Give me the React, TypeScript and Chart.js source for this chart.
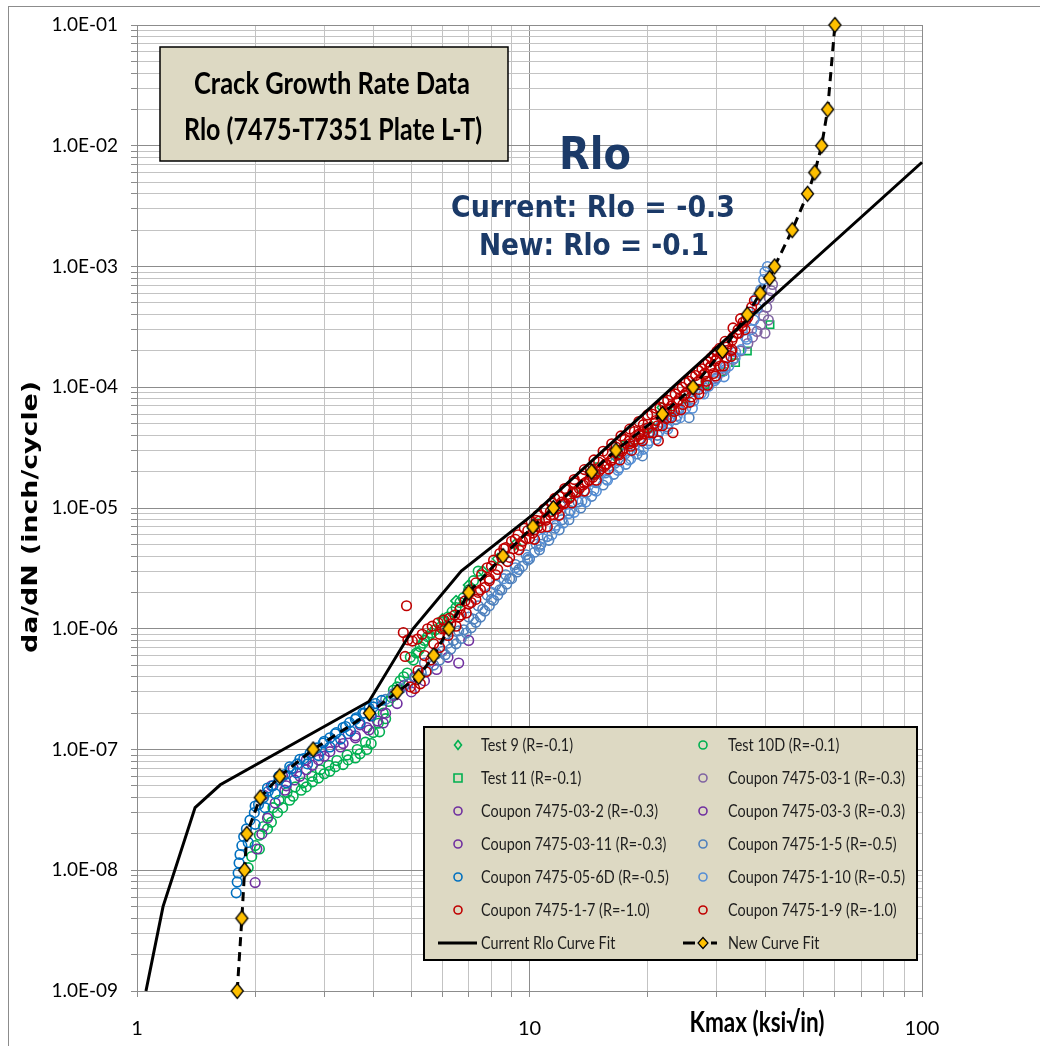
import React, { useEffect, useRef } from 'react';
import { Chart, registerables } from 'chart.js';

Chart.register(...registerables);

// ---------- axis ticks ----------
const xMajorValues = [1, 10, 100];
const xTickLabels = ['1', '10', '100'];
const yMajorValues = [1e-9, 1e-8, 1e-7, 1e-6, 1e-5, 1e-4, 1e-3, 1e-2, 1e-1];
const yTickLabels = ['1.0E-09', '1.0E-08', '1.0E-07', '1.0E-06', '1.0E-05', '1.0E-04', '1.0E-03', '1.0E-02', '1.0E-01'];

// ---------- series (Kmax, da/dN) ----------
const seriesLabels = [
  'Test 9 (R=-0.1)',
  'Test 10D (R=-0.1)',
  'Test 11 (R=-0.1)',
  'Coupon 7475-03-1 (R=-0.3)',
  'Coupon 7475-03-2 (R=-0.3)',
  'Coupon 7475-03-3 (R=-0.3)',
  'Coupon 7475-03-11 (R=-0.3)',
  'Coupon 7475-1-5 (R=-0.5)',
  'Coupon 7475-05-6D (R=-0.5)',
  'Coupon 7475-1-10 (R=-0.5)',
  'Coupon 7475-1-7 (R=-1.0)',
  'Coupon 7475-1-9 (R=-1.0)',
  'Current Rlo Curve Fit',
  'New Curve Fit',
];

const test9: [number, number][] = [
  [5.2, 6.4e-7], [5.6, 8.8e-7], [6.0, 1.2e-6], [6.5, 1.7e-6], [7.0, 2.3e-6], [7.6, 3.0e-6],
  [8.3, 3.8e-6], [9.2, 5.0e-6], [10.2, 6.8e-6], [11.5, 9.5e-6], [13.0, 1.35e-5], [14.6, 1.9e-5],
  [16.5, 2.7e-5], [18.5, 3.6e-5], [20.5, 4.7e-5], [21.8, 6.8e-5],
];

const test10D: [number, number][] = [
  [1.92, 1.05e-8], [1.96, 1.3e-8], [2.0, 1.6e-8], [2.05, 1.95e-8], [2.1, 2.3e-8], [2.16, 2.8e-8],
  [2.22, 3.3e-8], [2.3, 3.8e-8], [2.41, 4.4e-8], [2.53, 4.9e-8], [2.65, 5.3e-8], [2.79, 6.0e-8],
  [2.93, 6.8e-8], [3.08, 7.4e-8], [3.23, 8.1e-8], [3.43, 9.0e-8], [3.64, 1.0e-7], [3.82, 1.15e-7],
  [4.0, 1.38e-7], [4.12, 1.65e-7], [4.24, 2.0e-7], [4.37, 2.5e-7], [4.5, 3.1e-7], [4.68, 3.7e-7],
  [4.88, 4.3e-7], [5.06, 5.5e-7], [5.27, 7.1e-7], [5.5, 8.6e-7], [5.75, 9.8e-7], [5.93, 1.03e-6],
  [6.2, 1.25e-6], [6.5, 1.5e-6], [6.78, 1.8e-6], [7.0, 2.1e-6], [7.2, 2.5e-6], [7.4, 3.0e-6],
  [2.05, 1.5e-8], [2.15, 2.2e-8], [2.28, 3.0e-8], [2.45, 3.8e-8], [2.62, 4.6e-8], [2.8, 5.4e-8],
  [3.0, 6.3e-8], [3.2, 7.2e-8], [3.45, 8.2e-8], [3.7, 9.2e-8], [3.95, 1.12e-7], [4.15, 1.4e-7],
  [4.3, 1.8e-7], [4.97, 5.8e-7], [5.36, 7.6e-7],
  [2.2, 2.5e-8], [2.35, 3.3e-8], [2.5, 4.1e-8], [2.7, 4.9e-8], [2.9, 5.8e-8], [3.1, 6.6e-8],
  [3.35, 7.5e-8], [3.6, 8.5e-8], [3.85, 1.0e-7], [4.45, 2.7e-7], [4.6, 3.3e-7], [4.78, 4.0e-7],
  [5.15, 6.3e-7], [5.4, 8.0e-7], [5.62, 9.2e-7], [6.05, 1.15e-6], [6.35, 1.38e-6], [6.65, 1.65e-6],
];

const test11: [number, number][] = [
  [10.5, 7.5e-6], [12.5, 1.2e-5], [15.0, 2.2e-5], [17.5, 3.3e-5], [20.0, 4.6e-5], [22.5, 6.2e-5],
  [25.0, 8.0e-5], [28.0, 1.05e-4], [31.0, 1.35e-4], [33.5, 1.6e-4], [35.9, 2.0e-4], [41.0, 3.3e-4],
];

const coupon03_1: [number, number][] = [
  [12.0, 1.05e-5], [14.3, 1.9e-5], [20, 4.5e-5], [22, 5.5e-5], [24, 6.6e-5], [26, 8.0e-5],
  [28, 9.8e-5], [30, 1.2e-4], [31.5, 1.4e-4], [33, 1.7e-4], [34.5, 2.0e-4], [36, 2.3e-4],
  [37, 2.6e-4], [38, 2.9e-4], [38.8, 3.3e-4], [39.5, 3.9e-4], [40.2, 4.6e-4], [40.8, 5.5e-4],
  [41.3, 6.3e-4], [41.6, 7.1e-4], [39.8, 2.8e-4], [40.6, 3.6e-4],
];

const coupon03_2: [number, number][] = [
  [2.0, 7.9e-9], [2.02, 1.5e-8], [2.08, 2.0e-8], [2.15, 2.7e-8], [2.25, 3.6e-8], [2.38, 4.6e-8],
  [2.52, 5.6e-8], [2.7, 6.8e-8], [2.9, 8.2e-8], [3.1, 9.6e-8], [3.35, 1.12e-7], [3.6, 1.3e-7],
  [3.85, 1.52e-7], [4.1, 1.72e-7], [4.24, 1.66e-7],
];

const coupon03_3: [number, number][] = [
  [2.1, 4.2e-8], [2.2, 5.0e-8], [2.35, 6.0e-8], [2.5, 7.0e-8], [2.7, 8.2e-8], [2.95, 9.8e-8],
  [3.2, 1.15e-7], [3.45, 1.35e-7], [3.7, 1.6e-7], [3.95, 1.9e-7], [4.2, 2.3e-7], [4.5, 2.8e-7],
  [4.8, 3.4e-7], [5.1, 4.0e-7], [6.6, 5.2e-7],
];

const coupon03_11: [number, number][] = [
  [2.4, 5.0e-8], [2.6, 6.0e-8], [2.8, 7.4e-8], [3.0, 8.8e-8], [3.3, 1.05e-7], [3.6, 1.25e-7],
  [3.9, 1.45e-7], [4.3, 2.0e-7], [4.6, 2.4e-7], [5.0, 3.0e-7], [5.4, 3.7e-7], [5.8, 4.6e-7],
  [6.2, 5.8e-7], [7.0, 8.0e-7],
];

const coupon1_5: [number, number][] = [
  [4.3, 2.6e-7], [4.5, 2.9e-7], [4.7, 3.2e-7], [4.9, 3.5e-7], [5.1, 3.9e-7], [5.3, 4.3e-7],
  [5.5, 4.5e-7], [5.7, 5.0e-7], [5.9, 5.5e-7], [6.1, 6.1e-7], [6.3, 6.8e-7], [6.5, 7.5e-7],
  [6.7, 8.3e-7], [6.9, 9.2e-7], [7.1, 1.02e-6], [7.3, 1.13e-6], [7.5, 1.25e-6], [7.7, 1.4e-6],
  [7.9, 1.55e-6], [8.1, 1.72e-6], [8.3, 1.9e-6], [8.5, 2.1e-6], [8.75, 2.35e-6], [9.0, 2.6e-6],
  [9.3, 2.95e-6], [9.6, 3.3e-6], [9.9, 3.7e-6], [10.3, 4.3e-6], [10.7, 5.0e-6], [11.1, 5.8e-6],
  [11.6, 6.8e-6], [12.1, 8.0e-6], [12.7, 9.5e-6], [13.3, 1.12e-5], [14.0, 1.35e-5], [14.8, 1.62e-5],
  [15.6, 1.95e-5], [16.5, 2.35e-5], [17.5, 2.8e-5], [18.5, 3.3e-5], [19.4, 2.7e-5], [20.5, 4.1e-5],
  [21.6, 4.8e-5], [22.8, 5.6e-5], [24.0, 6.5e-5], [25.5, 5.6e-5],
  [5.4, 5.2e-7], [5.8, 6.2e-7], [6.2, 7.6e-7], [6.6, 9.6e-7], [7.0, 1.25e-6], [7.4, 1.55e-6],
  [7.8, 1.9e-6], [8.2, 2.3e-6], [8.7, 2.8e-6], [9.2, 3.4e-6], [9.8, 4.1e-6], [10.4, 5.0e-6],
  [6.0, 6.5e-7], [6.4, 8.0e-7], [6.8, 9.8e-7], [7.2, 1.2e-6], [7.6, 1.45e-6], [8.0, 1.75e-6],
  [8.4, 2.1e-6], [8.9, 2.6e-6], [9.4, 3.1e-6], [10.0, 3.8e-6], [10.6, 4.5e-6], [11.2, 5.4e-6],
  [11.9, 6.6e-6], [12.6, 8.0e-6], [13.5, 1.0e-5], [14.4, 1.25e-5], [15.4, 1.55e-5], [16.4, 1.9e-5],
  [17.6, 2.3e-5], [18.8, 2.8e-5], [20.0, 3.4e-5], [21.2, 4.0e-5], [22.4, 4.7e-5], [23.6, 5.4e-5],
];

const coupon05_6D: [number, number][] = [
  [1.79, 6.5e-9], [1.8, 8.0e-9], [1.81, 9.5e-9], [1.82, 1.15e-8], [1.83, 1.35e-8], [1.85, 1.6e-8],
  [1.87, 1.9e-8], [1.9, 2.2e-8], [1.94, 2.6e-8], [1.99, 3.0e-8], [2.04, 3.5e-8], [2.1, 4.0e-8],
  [2.16, 4.5e-8], [2.22, 5.0e-8], [2.3, 5.6e-8], [2.38, 6.2e-8], [2.47, 6.9e-8], [2.56, 7.6e-8],
  [2.66, 8.4e-8], [2.76, 9.3e-8], [2.87, 1.03e-7], [2.98, 1.13e-7], [3.1, 1.25e-7], [3.22, 1.38e-7],
  [3.35, 1.52e-7], [3.48, 1.67e-7], [3.62, 1.83e-7], [3.76, 2.0e-7], [3.9, 2.2e-7], [4.05, 2.4e-7],
  [4.2, 2.55e-7],
  [1.92, 1.7e-8], [2.0, 2.4e-8], [2.12, 3.3e-8], [2.25, 4.3e-8], [2.4, 5.3e-8], [2.55, 6.4e-8],
  [2.72, 7.6e-8], [2.9, 8.9e-8], [3.1, 1.05e-7], [3.3, 1.22e-7], [3.5, 1.42e-7], [3.7, 1.65e-7],
  [3.95, 1.9e-7],
  [2.0, 3.4e-8], [2.15, 4.8e-8], [2.3, 6.0e-8], [2.45, 7.2e-8], [2.6, 8.3e-8], [2.8, 9.8e-8],
  [3.0, 1.17e-7], [3.2, 1.35e-7], [3.4, 1.55e-7], [3.6, 1.78e-7], [3.8, 2.0e-7], [4.0, 2.25e-7],
];

const coupon1_10: [number, number][] = [
  [8.0, 2.0e-6], [8.6, 2.6e-6], [9.2, 3.2e-6], [9.9, 3.9e-6], [10.6, 4.8e-6], [11.4, 6.0e-6],
  [12.2, 7.5e-6], [13.0, 9.2e-6], [13.9, 1.12e-5], [14.8, 1.38e-5], [15.8, 1.7e-5], [16.8, 2.05e-5],
  [17.9, 2.5e-5], [19.0, 3.0e-5], [20.2, 3.6e-5], [21.4, 4.3e-5], [22.6, 5.0e-5], [23.8, 5.8e-5],
  [25.0, 6.7e-5], [26.2, 7.7e-5], [27.4, 8.9e-5], [28.6, 1.02e-4], [29.8, 1.17e-4], [31.0, 1.34e-4],
  [31.3, 1.22e-4], [32.2, 1.5e-4], [33.4, 1.75e-4], [34.6, 2.05e-4], [35.8, 2.5e-4], [36.8, 3.0e-4],
  [37.3, 3.6e-4], [38.0, 4.5e-4], [38.8, 6.4e-4], [39.5, 7.8e-4], [40.4, 1.0e-3], [39.8, 9.0e-4],
  [37.8, 5.4e-4],
  [10.8, 5.6e-6], [11.7, 7.2e-6], [12.6, 9.0e-6], [13.6, 1.14e-5], [14.6, 1.41e-5], [15.7, 1.73e-5],
  [16.9, 2.14e-5], [18.1, 2.55e-5], [19.5, 3.06e-5], [21.0, 3.7e-5], [22.5, 4.5e-5], [24.2, 5.6e-5],
  [26.0, 6.7e-5], [27.8, 8.8e-5], [29.6, 1.13e-4], [31.5, 1.47e-4], [33.5, 1.96e-4], [35.5, 2.6e-4],
];

const coupon1_7: [number, number][] = [
  [4.77, 9.3e-7], [4.86, 1.55e-6], [4.82, 5.9e-7], [4.9, 8.1e-7], [5.03, 7.9e-7], [5.18, 8.2e-7],
  [5.33, 9.0e-7], [5.5, 1.0e-6], [4.97, 3.3e-7], [5.1, 3.2e-7], [5.27, 3.5e-7], [5.45, 4.4e-7],
  [5.65, 1.05e-6], [5.85, 1.12e-6], [6.05, 1.18e-6], [6.25, 1.22e-6], [6.45, 1.3e-6], [6.65, 1.45e-6],
  [6.85, 1.7e-6], [7.05, 2.0e-6], [7.3, 2.4e-6], [7.55, 2.8e-6], [7.8, 3.2e-6], [8.1, 3.7e-6],
  [8.4, 4.2e-6], [8.7, 4.7e-6], [9.0, 5.3e-6], [9.35, 6.0e-6], [9.7, 6.8e-6], [10.1, 7.7e-6],
  [10.5, 8.7e-6], [10.9, 9.8e-6], [11.4, 1.1e-5], [11.9, 1.25e-5], [12.4, 1.42e-5], [13.0, 1.62e-5],
  [13.6, 1.85e-5], [14.3, 2.1e-5], [15.0, 2.4e-5], [15.8, 2.8e-5], [16.6, 3.2e-5], [17.5, 3.7e-5],
  [18.5, 4.3e-5], [19.5, 4.9e-5],
  [5.6, 5.5e-7], [5.9, 7.0e-7], [6.2, 8.8e-7], [6.5, 1.05e-6], [6.9, 1.35e-6], [7.3, 1.75e-6],
  [7.7, 2.2e-6], [8.2, 2.8e-6], [8.8, 3.6e-6], [9.4, 4.5e-6], [10.0, 5.6e-6], [10.7, 6.9e-6],
  [11.5, 8.8e-6], [12.3, 1.1e-5], [13.1, 1.35e-5], [14.0, 1.65e-5], [15.0, 2.0e-5], [16.1, 2.45e-5],
  [17.2, 2.95e-5], [18.4, 3.5e-5], [19.6, 4.1e-5],
  [8.0, 3.3e-6], [8.5, 3.9e-6], [9.1, 4.6e-6], [9.6, 5.3e-6], [10.3, 6.6e-6], [11.0, 8.2e-6],
  [11.7, 9.8e-6], [12.6, 1.2e-5], [13.4, 1.45e-5], [14.5, 1.8e-5], [15.5, 2.2e-5], [16.3, 2.6e-5],
  [17.0, 3.0e-5], [18.0, 3.6e-5], [19.0, 4.1e-5],
  [8.6, 4.6e-6], [9.2, 5.5e-6], [9.9, 6.5e-6], [10.6, 7.8e-6], [11.3, 9.3e-6], [12.1, 1.12e-5],
  [12.9, 1.35e-5], [13.8, 1.6e-5], [14.7, 1.95e-5], [15.6, 2.3e-5], [16.9, 2.75e-5], [18.1, 3.25e-5],
  [19.2, 3.75e-5],
  [6.0, 1.0e-6], [6.3, 1.1e-6], [6.7, 1.3e-6], [7.1, 1.65e-6], [7.5, 2.1e-6], [7.9, 2.5e-6],
  [5.2, 4.5e-7], [5.4, 6.0e-7], [5.7, 7.5e-7], [5.9, 9.0e-7],
  [10.4, 7.9e-6], [11.0, 9.8e-6], [11.6, 1.2e-5], [12.3, 1.45e-5], [13.0, 1.72e-5], [13.8, 2.08e-5],
  [14.6, 2.5e-5], [15.4, 2.95e-5], [16.2, 3.4e-5], [17.1, 3.95e-5], [18.0, 4.5e-5], [19.0, 5.2e-5],
];

const coupon1_9: [number, number][] = [
  [6.1, 1.0e-6], [6.6, 1.25e-6], [7.0, 1.6e-6], [7.4, 2.0e-6], [7.9, 2.6e-6], [8.3, 3.1e-6],
  [8.9, 3.9e-6], [9.5, 4.9e-6], [10.2, 6.2e-6], [11.0, 7.9e-6], [11.8, 9.9e-6], [12.7, 1.24e-5],
  [13.7, 1.55e-5], [14.7, 1.9e-5], [15.7, 2.3e-5], [16.8, 2.8e-5], [18.0, 3.4e-5], [19.0, 4.0e-5],
  [20.0, 4.6e-5], [21.0, 5.3e-5], [22.0, 6.1e-5], [23.0, 7.0e-5], [24.0, 7.9e-5], [25.0, 8.9e-5],
  [26.0, 1.0e-4], [27.0, 1.13e-4], [28.0, 1.3e-4], [29.0, 1.5e-4], [30.0, 1.72e-4], [31.0, 1.98e-4],
  [32.0, 2.28e-4], [33.0, 2.6e-4], [34.0, 3.0e-4], [35.0, 3.45e-4], [35.6, 3.6e-4], [36.5, 4.2e-4],
  [20.5, 6.0e-5], [21.5, 6.8e-5], [22.5, 7.8e-5], [23.5, 8.8e-5], [24.5, 1.0e-4], [25.5, 1.12e-4],
  [26.5, 1.25e-4], [27.5, 1.42e-4], [28.5, 1.62e-4], [29.5, 1.85e-4], [30.5, 2.1e-4], [31.5, 2.4e-4],
  [32.6, 2.0e-4], [34.1, 2.8e-4], [33.0, 3.1e-4], [34.5, 3.7e-4],
  [20.2, 4.2e-5], [21.2, 4.8e-5], [22.3, 5.5e-5], [23.4, 6.3e-5], [24.6, 7.2e-5], [25.8, 8.3e-5],
  [27.0, 9.6e-5], [28.2, 1.12e-4], [29.4, 1.3e-4], [30.6, 1.5e-4], [31.8, 1.75e-4], [32.8, 2.05e-4],
  [21.3, 3.6e-5], [23.2, 4.2e-5],
  [20.8, 5.0e-5], [21.8, 5.8e-5], [22.8, 6.6e-5], [23.8, 7.6e-5], [24.8, 8.6e-5], [25.8, 9.8e-5],
  [26.8, 1.1e-4], [27.8, 1.27e-4], [28.8, 1.45e-4], [29.8, 1.66e-4], [30.8, 1.9e-4], [31.8, 2.15e-4],
  [32.8, 2.45e-4], [33.8, 2.8e-4], [34.8, 3.2e-4], [35.4, 3.0e-4], [36.0, 3.8e-4], [36.8, 4.6e-4],
  [37.4, 5.2e-4],
  [9.8, 5.6e-6], [10.5, 7.0e-6], [11.3, 8.7e-6], [12.2, 1.08e-5], [13.2, 1.35e-5], [14.2, 1.7e-5],
  [15.2, 2.1e-5], [16.2, 2.5e-5], [17.3, 3.1e-5], [18.5, 3.7e-5], [19.5, 4.3e-5],
  [20.0, 5.9e-5], [21.0, 6.7e-5], [22.0, 7.6e-5], [23.0, 8.6e-5], [24.0, 9.7e-5], [25.0, 1.09e-4],
  [26.0, 1.22e-4], [27.0, 1.37e-4], [28.0, 1.55e-4], [29.0, 1.75e-4], [30.0, 1.98e-4],
  [10.3, 5.5e-6], [11.1, 7.0e-6], [11.9, 8.7e-6], [12.8, 1.1e-5], [13.8, 1.38e-5], [14.8, 1.7e-5],
  [15.9, 2.1e-5], [17.0, 2.5e-5], [18.2, 3.0e-5], [19.4, 3.6e-5], [20.6, 4.2e-5], [21.8, 4.8e-5],
  [23.0, 5.6e-5], [24.3, 6.5e-5], [25.6, 7.5e-5], [27.0, 8.8e-5], [28.4, 1.04e-4], [29.8, 1.24e-4],
  [31.2, 1.5e-4], [32.6, 1.8e-4],
];

const currentFitK = [1.054, 1.165, 1.406, 1.63, 3.9, 5.05, 6.7, 10.2, 24.3, 100];
const currentFitRate = [1e-9, 5e-9, 3.3e-8, 5.1e-8, 2.5e-7, 1.0e-6, 3.0e-6, 8.8e-6, 1.15e-4, 7.3e-3];

const newFitK = [1.8, 1.85, 1.88, 1.905, 2.06, 2.31, 2.81, 3.91, 4.6, 5.22, 5.7, 6.23, 7.0, 8.56, 10.2, 11.5,
  14.4, 16.6, 21.8, 26.1, 31, 35.9, 38.7, 40.9, 42.1, 46.7, 51.1, 53.3, 55.5, 57.5, 60];
const newFitRate = [1e-9, 4e-9, 1e-8, 2e-8, 4e-8, 6e-8, 1e-7, 2e-7, 3e-7, 4e-7, 6e-7, 1e-6, 2e-6, 4e-6, 7e-6, 1e-5,
  2e-5, 3e-5, 6e-5, 1e-4, 2e-4, 4e-4, 6e-4, 8e-4, 1e-3, 2e-3, 4e-3, 6e-3, 1e-2, 2e-2, 1e-1];

// ---------- styles ----------
const GREEN = '#00B050';
const PURPLE = '#7030A0';
const LIGHT_PURPLE = '#8064A2';
const BLUE = '#0070C0';
const LIGHT_BLUE = '#4F81BD';
const LIGHT_BLUE2 = '#558ED5';
const RED = '#C00000';
const NAVY = '#1B3A68';
const BOX_FILL = '#DDD9C3';

type MarkerKind = 'circle' | 'diamond' | 'square';
const scatterSeries: { data: [number, number][]; color: string; marker: MarkerKind }[] = [
  { data: test9, color: GREEN, marker: 'diamond' },
  { data: test10D, color: GREEN, marker: 'circle' },
  { data: test11, color: GREEN, marker: 'square' },
  { data: coupon03_1, color: LIGHT_PURPLE, marker: 'circle' },
  { data: coupon03_2, color: PURPLE, marker: 'circle' },
  { data: coupon03_3, color: PURPLE, marker: 'circle' },
  { data: coupon03_11, color: PURPLE, marker: 'circle' },
  { data: coupon1_5, color: LIGHT_BLUE, marker: 'circle' },
  { data: coupon05_6D, color: BLUE, marker: 'circle' },
  { data: coupon1_10, color: LIGHT_BLUE2, marker: 'circle' },
  { data: coupon1_7, color: RED, marker: 'circle' },
  { data: coupon1_9, color: RED, marker: 'circle' },
];

function makeDiamond(w: number, h: number): HTMLCanvasElement {
  const c = document.createElement('canvas');
  c.width = w + 3;
  c.height = h + 3;
  const g = c.getContext('2d')!;
  const cx = c.width / 2;
  const cy = c.height / 2;
  g.beginPath();
  g.moveTo(cx, cy - h / 2);
  g.lineTo(cx + w / 2, cy);
  g.lineTo(cx, cy + h / 2);
  g.lineTo(cx - w / 2, cy);
  g.closePath();
  g.fillStyle = '#FFC000';
  g.fill();
  g.lineWidth = 1.3;
  g.strokeStyle = '#000';
  g.stroke();
  return c;
}

const isDecade = (v: number) => {
  const l = Math.log10(v);
  return Math.abs(l - Math.round(l)) < 1e-6;
};

function logTicks(lo: number, hi: number): number[] {
  const out: number[] = [];
  for (let e = lo; e < hi; e++) {
    for (let m = 1; m <= 9; m++) out.push(parseFloat((m * Math.pow(10, e)).toPrecision(6)));
  }
  out.push(Math.pow(10, hi));
  return out;
}

function capText(ctx: CanvasRenderingContext2D, text: string, x: number, capCenterY: number, fontPx: number,
  fontSpec: string, capRatio: number, color: string, opts: { targetW?: number; sx?: number; align?: CanvasTextAlign }) {
  ctx.save();
  ctx.font = fontSpec;
  const w = ctx.measureText(text).width;
  const s = opts.targetW ? opts.targetW / w : (opts.sx ?? 1);
  ctx.translate(x, capCenterY + (capRatio * fontPx) / 2);
  ctx.scale(s, 1);
  ctx.textAlign = opts.align ?? 'center';
  ctx.textBaseline = 'alphabetic';
  ctx.fillStyle = color;
  ctx.fillText(text, 0, 0);
  ctx.restore();
}

function drawMarker(ctx: CanvasRenderingContext2D, kind: MarkerKind, x: number, y: number, color: string) {
  ctx.save();
  ctx.strokeStyle = color;
  ctx.lineWidth = 1.6;
  ctx.beginPath();
  if (kind === 'circle') {
    ctx.arc(x, y, 4, 0, Math.PI * 2);
  } else if (kind === 'diamond') {
    ctx.moveTo(x, y - 4.5);
    ctx.lineTo(x + 3.5, y);
    ctx.lineTo(x, y + 4.5);
    ctx.lineTo(x - 3.5, y);
    ctx.closePath();
  } else {
    ctx.rect(x - 4, y - 4, 8, 8);
  }
  ctx.stroke();
  ctx.restore();
}

const decorPlugin = {
  id: 'decor',
  beforeDraw(chart: any) {
    const ctx: CanvasRenderingContext2D = chart.ctx;
    ctx.save();
    ctx.fillStyle = '#ffffff';
    ctx.fillRect(0, 0, chart.width, chart.height);
    ctx.strokeStyle = '#8c8c8c';
    ctx.lineWidth = 1;
    ctx.strokeRect(8.5, 6.5, chart.width + 20, chart.height + 20);
    ctx.restore();
  },
  afterDraw(chart: any) {
    const ctx: CanvasRenderingContext2D = chart.ctx;

    // Title box
    ctx.save();
    ctx.fillStyle = BOX_FILL;
    ctx.fillRect(160, 47, 348, 114);
    ctx.strokeStyle = '#000';
    ctx.lineWidth = 1.5;
    ctx.strokeRect(160, 47, 348, 114);
    ctx.restore();
    capText(ctx, 'Crack Growth Rate Data', 332, 82.5, 31, 'bold 31px Lato', 0.717, '#000', { targetW: 276 });
    capText(ctx, 'Rlo (7475-T7351 Plate L-T)', 333, 129, 31, 'bold 31px Lato', 0.717, '#000', { targetW: 298 });

    // Rlo annotation
    capText(ctx, 'Rlo', 595, 152.5, 44, 'bold 44px "DejaVu Sans"', 0.729, NAVY, { targetW: 72 });
    capText(ctx, 'Current: Rlo = -0.3', 593, 206, 30, 'bold 30px "DejaVu Sans"', 0.729, NAVY, { targetW: 284 });
    capText(ctx, 'New: Rlo = -0.1', 594, 244, 30, 'bold 30px "DejaVu Sans"', 0.729, NAVY, { targetW: 230 });

    // x-axis title
    capText(ctx, 'Kmax (ksi√in)', 757, 1022, 28, 'bold 28px Lato', 0.717, '#000', { targetW: 135 });

    // y-axis title
    ctx.save();
    ctx.translate(31, 517);
    ctx.rotate(-Math.PI / 2);
    ctx.font = 'bold 22px "DejaVu Sans"';
    const yt = 'da/dN (inch/cycle)';
    const yw = ctx.measureText(yt).width;
    ctx.scale(272 / yw, 1);
    ctx.textAlign = 'center';
    ctx.textBaseline = 'middle';
    ctx.fillStyle = '#000';
    ctx.fillText(yt, 0, 0);
    ctx.restore();

    // Legend box
    ctx.save();
    ctx.fillStyle = BOX_FILL;
    ctx.fillRect(424, 727, 493, 233);
    ctx.strokeStyle = '#000';
    ctx.lineWidth = 2;
    ctx.strokeRect(424, 727, 493, 233);
    ctx.restore();

    const rowY = (r: number) => 745 + r * 33;
    const markerX = [458, 703];
    const textX = [481, 728];
    chart.data.datasets.forEach((ds: any, i: number) => {
      const r = Math.floor(i / 2);
      const c = i % 2;
      const y = rowY(r);
      if (i < scatterSeries.length) {
        drawMarker(ctx, scatterSeries[i].marker, markerX[c], y, scatterSeries[i].color);
      } else if (i === scatterSeries.length) {
        ctx.save();
        ctx.strokeStyle = '#000';
        ctx.lineWidth = 3;
        ctx.beginPath();
        ctx.moveTo(438, y);
        ctx.lineTo(477, y);
        ctx.stroke();
        ctx.restore();
      } else {
        ctx.save();
        ctx.strokeStyle = '#000';
        ctx.lineWidth = 3;
        ctx.beginPath();
        ctx.moveTo(683, y);
        ctx.lineTo(695, y);
        ctx.moveTo(711, y);
        ctx.lineTo(717, y);
        ctx.stroke();
        ctx.beginPath();
        ctx.moveTo(703, y - 5.5);
        ctx.lineTo(708, y);
        ctx.lineTo(703, y + 5.5);
        ctx.lineTo(698, y);
        ctx.closePath();
        ctx.fillStyle = '#FFC000';
        ctx.fill();
        ctx.lineWidth = 1.2;
        ctx.stroke();
        ctx.restore();
      }
      capText(ctx, ds.label, textX[c], y, 18, '18px Lato', 0.717, '#1e1e1e', { sx: 0.8, align: 'left' });
    });
  },
};

export default function App() {
  const ref = useRef<HTMLCanvasElement | null>(null);

  useEffect(() => {
    if (!ref.current) return;
    const diamond = makeDiamond(12, 15);
    const n = seriesLabels.length;

    const datasets: any[] = scatterSeries.map((s, i) => ({
      label: seriesLabels[i],
      data: s.data.map(([x, y]) => ({ x, y })),
      showLine: false,
      pointStyle: s.marker === 'circle' ? 'circle' : s.marker === 'diamond' ? 'rectRot' : 'rect',
      pointRadius: s.marker === 'circle' ? 4.8 : 5.2,
      borderColor: s.color,
      backgroundColor: 'rgba(0,0,0,0)',
      pointBorderWidth: 1.6,
      order: n - 1 - i,
    }));

    datasets.push({
      label: seriesLabels[12],
      data: currentFitK.map((x, i) => ({ x, y: currentFitRate[i] })),
      showLine: true,
      borderColor: '#000',
      borderWidth: 3,
      pointRadius: 0,
      fill: false,
      clip: false,
      order: 1,
    });
    datasets.push({
      label: seriesLabels[13],
      data: newFitK.map((x, i) => ({ x, y: newFitRate[i] })),
      showLine: true,
      borderColor: '#000',
      borderWidth: 3,
      borderDash: [9, 6],
      pointStyle: diamond,
      pointRadius: 7,
      fill: false,
      clip: false,
      order: 0,
    });

    const xTicks = logTicks(0, 2);
    const yTicks = logTicks(-9, -1);

    const gridColor = (ctx: any) => (ctx.tick && isDecade(ctx.tick.value) ? '#8c8c8c' : '#c3c3c3');

    const chart = new Chart(ref.current, {
      type: 'scatter',
      data: { datasets },
      plugins: [decorPlugin],
      options: {
        responsive: false,
        animation: false,
        events: [],
        layout: { padding: { left: 8, right: 118, top: 25, bottom: 0 } },
        plugins: { legend: { display: false }, tooltip: { enabled: false }, title: { display: false } },
        scales: {
          x: {
            type: 'logarithmic',
            min: 1,
            max: 100,
            afterBuildTicks: (s: any) => { s.ticks = xTicks.map((v) => ({ value: v })); },
            afterFit: (s: any) => { s.height = 55; },
            ticks: {
              autoSkip: false,
              maxRotation: 0,
              minRotation: 0,
              padding: 20,
              color: '#000',
              font: { family: 'Lato', size: 20 },
              callback: (v: any) => {
                const idx = xMajorValues.findIndex((m) => Math.abs(m - v) / m < 1e-6);
                return idx >= 0 ? xTickLabels[idx] : '';
              },
            },
            grid: { color: gridColor, tickColor: '#8c8c8c', tickLength: 6, drawTicks: true },
            border: { display: true, color: '#8c8c8c', width: 1 },
          },
          y: {
            type: 'logarithmic',
            min: 1e-9,
            max: 1e-1,
            afterBuildTicks: (s: any) => { s.ticks = yTicks.map((v) => ({ value: v })); },
            afterFit: (s: any) => { s.width = 129; },
            ticks: {
              autoSkip: false,
              padding: 13,
              color: '#000',
              font: { family: 'Lato', size: 19 },
              callback: (v: any) => {
                const idx = yMajorValues.findIndex((m) => Math.abs(m - v) / m < 1e-6);
                return idx >= 0 ? yTickLabels[idx] : '';
              },
            },
            grid: { color: gridColor, tickColor: '#8c8c8c', tickLength: 6, drawTicks: true },
            border: { display: true, color: '#8c8c8c', width: 1 },
          },
        },
      } as any,
    });

    return () => chart.destroy();
  }, []);

  return (
    <div style={{ position: 'absolute', left: 0, top: 0, width: 1040, height: 1046, background: '#fff' }}>
      <canvas ref={ref} width={1040} height={1046} style={{ display: 'block', width: 1040, height: 1046 }} />
    </div>
  );
}
